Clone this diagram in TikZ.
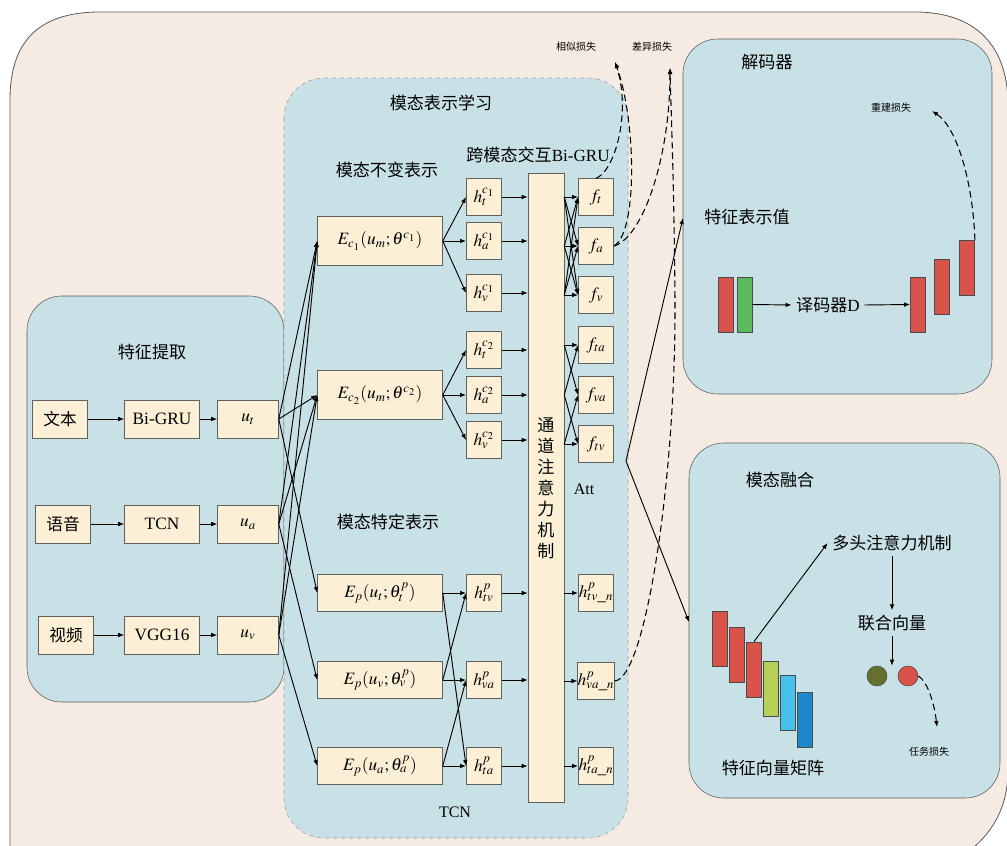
\documentclass[tikz,border=0pt]{standalone}
\usepackage{mathptmx}
\usepackage{fontspec}
\setmainfont{Liberation Serif}
\newfontfamily\cjk{Noto Sans CJK SC}
\usetikzlibrary{arrows.meta}

\definecolor{framebg}{HTML}{F6EBE2}
\definecolor{panelbg}{HTML}{C8E1E6}
\definecolor{boxbg}{HTML}{FBF0D5}
\definecolor{barred}{HTML}{D9534A}
\definecolor{bargreen}{HTML}{5BBA5B}
\definecolor{barlime}{HTML}{B6D05A}
\definecolor{barsky}{HTML}{45C1EA}
\definecolor{barblue}{HTML}{1F87C9}
\definecolor{dotolive}{HTML}{65702F}

\tikzset{
  panel/.style={draw=gray!70!black, fill=panelbg, rounded corners=26pt},
  box/.style={draw=gray!75!black, fill=boxbg, inner sep=0pt, font=\fontsize{13}{15}\selectfont},
  srcbox/.style={box, minimum width=41.25pt, minimum height=28.5pt, font=\cjk\fontsize{12.5}{15}\selectfont},
  netbox/.style={box, minimum width=56.25pt, minimum height=28.5pt},
  ubox/.style={box, minimum width=45.75pt, minimum height=28.5pt},
  hbox/.style={box, minimum width=26.5pt, minimum height=27.5pt},
  ebox/.style={box, minimum width=93.75pt, minimum height=36.75pt},
  pbox/.style={box, minimum width=93.75pt, minimum height=27.75pt},
  bar/.style={draw=gray!60!black, inner sep=0pt, minimum width=11.5pt, minimum height=41.5pt},
  dot/.style={circle, draw=gray!60!black, inner sep=0pt, minimum size=15pt},
  title/.style={font=\cjk\fontsize{12.8}{15}\selectfont},
  note/.style={font=\cjk\fontsize{7.5}{9}\selectfont},
  link/.style={->, line width=0.7pt},
  loss/.style={->, line width=0.8pt, dash pattern=on 5pt off 3pt}
}

\begin{document}
\begin{tikzpicture}[x=0.75pt, y=-0.75pt, >={Latex[length=4.5pt,width=3.5pt]}]
\useasboundingbox (0,0) rectangle (1007,846);

% outer frame, cut at the page edge
\begin{scope}
\clip (0,0) rectangle (1007,846);
\filldraw[fill=framebg, draw=gray!70!black, line width=0.6pt]
  (10,852) -- (10,100) .. controls (10,40) and (40,12) .. (100,12)
  -- (915,12) .. controls (975,12) and (1008,45) .. (1008,105)
  -- (1008,770) .. controls (1008,810) and (990,835) .. (968,852);
\end{scope}

% panels
\draw[panel] (27,296) rectangle (284,702);
\draw[panel, draw=gray!80, dashed, rounded corners=30pt] (284,78) rectangle (628,838);
\draw[panel] (683,39) rectangle (992,394);
\draw[panel] (689,443) rectangle (1000,798);

% feature extraction
\node[title] (fe) at (152,352) {特征提取};
\node[srcbox] (txt) at (60,419) {文本};
\node[srcbox] (aud) at (63,524) {语音};
\node[srcbox] (vid) at (66,635) {视频};
\node[netbox] (bigru) at (162,419) {Bi-GRU};
\node[netbox] (tcn) at (162,524) {TCN};
\node[netbox] (vgg) at (162,635) {VGG16};
\node[ubox] (ut) at (248,419) {$u_t$};
\node[ubox] (ua) at (248,524) {$u_a$};
\node[ubox] (uv) at (248,635) {$u_v$};
\draw[link] (txt) -- (bigru);
\draw[link] (aud) -- (tcn);
\draw[link] (vid) -- (vgg);
\draw[link] (bigru) -- (ut);
\draw[link] (tcn) -- (ua);
\draw[link] (vgg) -- (uv);

% representation learning
\node[title] (rl) at (441,103) {模态表示学习};
\node[title] (inv) at (387,170) {模态不变表示};
\node[title] (spc) at (388,522) {模态特定表示};
\node[title] (xgru) at (538,155) {跨模态交互\rmfamily Bi-GRU};
\node[font=\fontsize{12}{14}\selectfont] (tcnlbl) at (455,812) {TCN};
\node[font=\fontsize{12}{14}\selectfont] (attlbl) at (584,489) {Att};

\node[ebox] (ec1) at (380,241) {$E_{c_1}(u_m;\theta^{c_1})$};
\node[ebox] (ec2) at (380,395) {$E_{c_2}(u_m;\theta^{c_2})$};
\node[pbox] (ept) at (380,593) {$E_p(u_t;\theta_t^p)$};
\node[pbox] (epv) at (380,680) {$E_p(u_v;\theta_v^p)$};
\node[pbox] (epa) at (380,766) {$E_p(u_a;\theta_a^p)$};

\node[hbox] (ht1) at (484,197) {$h_t^{c_1}$};
\node[hbox] (ha1) at (484,241) {$h_a^{c_1}$};
\node[hbox] (hv1) at (484,293) {$h_v^{c_1}$};
\node[hbox] (ht2) at (484,350) {$h_t^{c_2}$};
\node[hbox] (ha2) at (484,395) {$h_a^{c_2}$};
\node[hbox] (hv2) at (484,440) {$h_v^{c_2}$};
\node[hbox] (htv) at (484,593) {$h_{tv}^p$};
\node[hbox] (hva) at (484,680) {$h_{va}^p$};
\node[hbox] (hta) at (484,766) {$h_{ta}^p$};

\node[box, minimum width=27pt, minimum height=471.75pt] (att) at (546,487.5) {};
\node[title, align=center, font=\cjk\fontsize{12.8}{15.75}\selectfont] (attname) at (546,488)
  {通\\道\\注\\意\\力\\机\\制};

\node[hbox] (ft) at (596,197) {$f_t$};
\node[hbox] (fa) at (596,246) {$f_a$};
\node[hbox] (fv) at (596,295) {$f_v$};
\node[hbox] (fta) at (596,345) {$f_{ta}$};
\node[hbox] (fva) at (596,395) {$f_{va}$};
\node[hbox] (ftv) at (596,444) {$f_{tv}$};
\node[hbox] (htvn) at (596,593) {$h_{tv\_n}^p$};
\node[hbox] (hvan) at (596,681) {$h_{va\_n}^p$};
\node[hbox] (htan) at (596,766) {$h_{ta\_n}^p$};

% features into the encoders
\foreach \u in {ut,ua,uv} {
  \draw[link] (\u.east) -- (ec1.west);
  \draw[link] (\u.east) -- (ec2.west);
}
\draw[link] (ut.east) -- (ept.west);
\draw[link] (ua.east) -- (epv.west);
\draw[link] (uv.east) -- (epa.west);

% encoders to hidden states
\foreach \h in {ht1,ha1,hv1} \draw[link] (ec1.east) -- (\h.west);
\foreach \h in {ht2,ha2,hv2} \draw[link] (ec2.east) -- (\h.west);
\draw[link] (ept.east) -- (htv.west);
\draw[link] (ept.east) -- (hta.west);
\draw[link] (epv.east) -- (htv.west);
\draw[link] (epv.east) -- (hva.west);
\draw[link] (epa.east) -- (hva.west);
\draw[link] (epa.east) -- (hta.west);

% hidden states into the attention column
\foreach \h in {ht1,ha1,hv1,ht2,ha2,hv2,htv,hva,hta}
  \draw[link] (\h.east) -- (\h.east -| att.west);

% attention column out
\foreach \a in {ft,fa,fv}
  \foreach \b in {ft,fa,fv}
    \draw[link] (att.east |- \a) -- (\b.west);
\foreach \a/\b in {fta/fta, fta/fva, fva/fta, fva/ftv, ftv/fva, ftv/ftv}
  \draw[link] (att.east |- \a) -- (\b.west);
\foreach \h in {htvn,hvan,htan}
  \draw[link] (att.east |- \h) -- (\h.west);

% losses of the representation part
\node[note] (simloss) at (576,47) {相似损失};
\node[note] (difloss) at (652,47) {差异损失};
\coordinate (simend) at (615,62);
\coordinate (difend) at (670,68);
\draw[loss] (ft.north) .. controls (616,170) and (631,110) .. (simend);
\draw[loss] (fa.east) .. controls (638,232) and (636,120) .. (simend);
\draw[loss] (fa.east) .. controls (642,238) and (670,160) .. (difend);
\draw[loss] (hvan.east) .. controls (645,680) and (676,480) .. (675,300)
  .. controls (674,180) and (671,110) .. (difend);

% hand over to decoder and fusion
\coordinate (split) at (626,461);
\coordinate (decin) at (683,218);
\coordinate (fusin) at (689,622);
\draw[link] (split) -- (decin);
\draw[link] (split) -- (fusin);

% decoder
\node[title] (decname) at (767,62) {解码器};
\node[title] (featval) at (747,217) {特征表示值};
\node[bar, fill=barred] (enc1) at (725.5,304.5) {};
\node[bar, fill=bargreen] (enc2) at (744.5,304.5) {};
\node[title] (decD) at (828,305) {译码器\rmfamily D};
\node[bar, fill=barred] (rec1) at (918,304.5) {};
\node[bar, fill=barred] (rec2) at (942,287) {};
\node[bar, fill=barred] (rec3) at (967,268) {};
\node[note] (recloss) at (891,108) {重建损失};
\coordinate (recend) at (932,111);
\draw[link] (enc2.east) -- (decD.west);
\draw[link] (decD.east) -- (rec1.west);
\draw[loss] (rec3.north east) .. controls (973,185) and (958,128) .. (recend);

% fusion
\node[title] (fusname) at (780,480) {模态融合};
\node[bar, fill=barred] (m1) at (720,639) {};
\node[bar, fill=barred] (m2) at (737,654.5) {};
\node[bar, fill=barred] (m3) at (754,669.5) {};
\node[bar, fill=barlime] (m4) at (771,688.5) {};
\node[bar, fill=barsky] (m5) at (788,703) {};
\node[bar, fill=barblue] (m6) at (805,719.5) {};
\node[title] (matname) at (773,768) {特征向量矩阵};
\node[title] (mha) at (892,543) {多头注意力机制};
\node[title] (jv) at (892,623) {联合向量};
\node[dot, fill=dotolive] (jv1) at (877,676) {};
\node[dot, fill=barred] (jv2) at (908,676) {};
\node[note] (taskloss) at (929,752) {任务损失};
\coordinate (taskend) at (937,727);
\draw[link] (m3.north) -- (mha.west);
\draw[link] (mha.south) -- (jv.north);
\draw[link] (jv.south) -- (jv.south |- jv1.north);
\draw[loss] (jv2.east) .. controls (926,680) and (934,700) .. (taskend);
\end{tikzpicture}
\end{document}
